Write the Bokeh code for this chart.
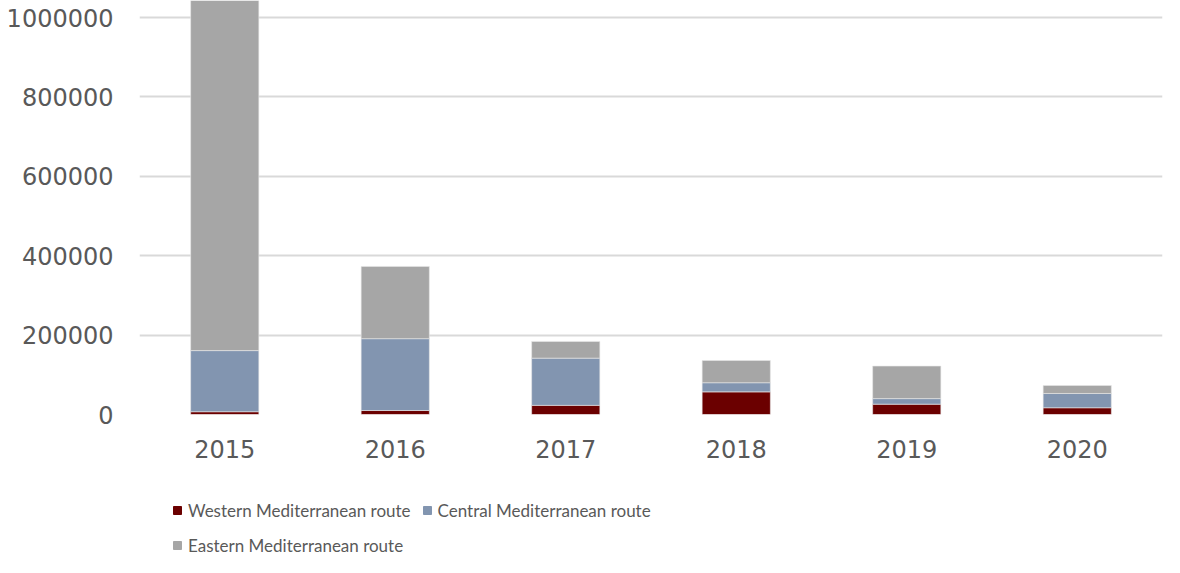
from bokeh.plotting import figure
from bokeh.layouts import column
from bokeh.models import FactorRange, Range1d, Legend, LegendItem, FixedTicker
from bokeh.embed import file_html
from bokeh.resources import INLINE

years = ["2015", "2016", "2017", "2018", "2019", "2020"]
western = [7000, 10000, 23000, 57000, 26000, 17000]
central = [154000, 181000, 119000, 23000, 14000, 36000]
eastern = [885000, 182000, 42000, 56000, 82000, 20000]
series = ["Western Mediterranean route", "Central Mediterranean route", "Eastern Mediterranean route"]
keys = ["western", "central", "eastern"]
colors = ["#6B0000", "#8295B0", "#A6A6A6"]
y_ticks = [0, 200000, 400000, 600000, 800000, 1000000]

data = {"years": years, "western": western, "central": central, "eastern": eastern}

p = figure(x_range=FactorRange(factors=years, range_padding=0),
           y_range=Range1d(0, 1043000),
           width=1164, height=470,
           min_border_left=139, min_border_right=2, min_border_top=0, min_border_bottom=56,
           output_backend="svg", toolbar_location=None)

renderers = p.vbar_stack(keys, x="years", width=0.4, color=colors, source=data,
                         line_color="#E8E8E8", line_width=0.6)

p.outline_line_color = None
p.background_fill_color = "white"
p.border_fill_color = "white"

p.xgrid.grid_line_color = None
p.ygrid.grid_line_color = "#D9D9D9"
p.ygrid.grid_line_width = 2
p.yaxis.ticker = FixedTicker(ticks=y_ticks)
p.yaxis.formatter.use_scientific = False

for ax in (p.xaxis, p.yaxis):
    ax.axis_line_color = None
    ax.major_tick_line_color = None
    ax.minor_tick_line_color = None
    ax.major_tick_out = 0
    ax.major_tick_in = 0
    ax.minor_tick_out = 0
    ax.major_label_text_font = "DejaVu Sans"
    ax.major_label_text_font_size = "24px"
    ax.major_label_text_color = "#595959"

p.yaxis.major_label_standoff = 26
p.xaxis.major_label_standoff = 25

# Legend strip below the chart. Its stacked series share the same data, but the
# strip's y range lies far above the data so only the legend swatches show.
lg = figure(width=1164, height=87, x_range=FactorRange(factors=years, range_padding=0),
            y_range=Range1d(2000000, 3000000),
            min_border_left=0, min_border_right=0, min_border_top=0, min_border_bottom=0,
            output_backend="svg", toolbar_location=None)
lg.axis.visible = False
lg.grid.visible = False
lg.outline_line_color = None
lg.background_fill_color = "white"
lg.border_fill_color = "white"
swatches = lg.vbar_stack(keys, x="years", width=0.4, fill_color=colors, line_color=colors,
                         source=data)

legend = Legend(items=[LegendItem(label=s, renderers=[r]) for s, r in zip(series, swatches)],
                border_line_color=None, background_fill_alpha=0,
                label_text_font="Lato", label_text_font_size="17px",
                label_text_color="#595959", glyph_width=10, glyph_height=10,
                label_standoff=6, label_height=24, padding=0, spacing=11,
                orientation="horizontal", ncols=2, margin=0, location=(33, 0))
lg.add_layout(legend)

open("out.html", "w").write(file_html(column(p, lg, spacing=0), INLINE))
